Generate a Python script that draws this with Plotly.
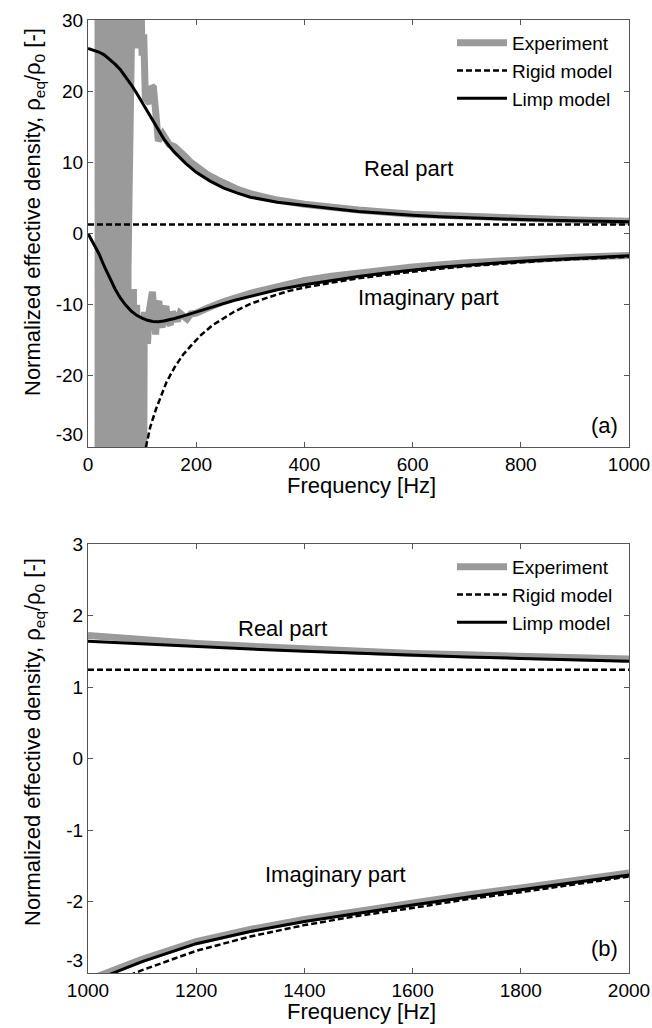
import plotly.graph_objects as go

# ---------------- data: panel (a) 0-1000 Hz ----------------
# Experiment, real part
exp_re_f = [18, 20, 22, 24, 26, 28, 30, 32, 34, 36, 38, 40, 42, 44, 46, 48, 50, 52, 54, 56, 58, 60, 62, 64, 66, 68, 70, 72,
            74, 76, 78, 80, 83, 86, 89, 92, 96, 100, 103, 106, 110, 114, 118, 121, 124, 127, 130, 134, 138, 142, 146, 150,
            160, 170, 180, 190, 200, 210, 220, 240, 260, 280, 300, 350, 400, 450, 500, 600, 700, 800, 900, 1000]
exp_re_v = [60, -60, 60, -60, 60, -60, 60, -60, 60, -60, 60, -60, 60, -60, 60, -60, 60, -60, 60, -60, 60, -60, 60, -60, 60, -60, 60, -60,
            -5, 6, 40, 26, 40, 27, 40, 26, 40, 25, 28, 19, 18.5, 18.3, 20.7, 20.5, 18, 15.5, 13, 13.5, 14, 13.5, 13, 12.5,
            12.2, 11.6, 10.8, 10.0, 9.4, 8.9, 8.3, 7.5, 6.7, 6.1, 5.6, 4.7, 4.1, 3.6, 3.3, 2.7, 2.35, 2.05, 1.88, 1.73]
# Experiment, imaginary part
exp_im_f = [18, 20, 22, 24, 26, 28, 30, 32, 34, 36, 38, 40, 42, 44, 46, 48, 50, 52, 54, 56, 58, 60, 62, 64, 66, 68, 70, 72,
            74, 78, 81, 84, 87, 90, 94, 98, 102, 104, 107, 110, 113, 116, 119, 122, 125, 128, 131, 134, 137, 140, 144, 148,
            152, 156, 160, 165, 170, 176, 183, 190, 200, 220, 250, 300, 350, 400, 450, 500, 600, 700, 800, 900, 1000]
exp_im_v = [-60, 60, -60, 60, -60, 60, -60, 60, -60, 60, -60, 60, -60, 60, -60, 60, -60, 60, -60, 60, -60, 60, -60, 60, -60, 60, -60, 60,
            -60, -8, -60, -7.8, -60, -10, -60, -12, -60, -11, -13, -15.5, -11, -8.5, -8.2, -11, -14.2, -10, -9.5, -12.5, -13.2, -11, -10.2, -12.5,
            -12.8, -11, -11.8, -12.3, -11.2, -11.5, -12, -11.3, -11.2, -10.5, -9.6, -8.4, -7.4, -6.6, -6.0, -5.5, -4.7, -4.1, -3.65, -3.35, -3.1]
# Limp model
limp_f = [0, 10, 20, 30, 40, 50, 60, 70, 80, 90, 100, 110, 120, 130, 140, 150, 160, 180, 200, 225, 250, 275, 300,
          350, 400, 450, 500, 550, 600, 650, 700, 750, 800, 850, 900, 950, 1000]
limp_re = [26.0, 25.8, 25.5, 25.1, 24.5, 23.8, 23.0, 22.0, 20.9, 19.7, 18.4, 17.0, 15.7, 14.4, 13.3, 12.3, 11.4, 9.9, 8.6, 7.4, 6.4, 5.7, 5.1,
           4.4, 3.9, 3.5, 3.1, 2.8, 2.55, 2.35, 2.2, 2.07, 1.96, 1.87, 1.79, 1.72, 1.65]
limp_im = [0.0, -1.4, -2.8, -4.6, -6.3, -7.8, -9.1, -10.1, -10.9, -11.5, -11.9, -12.2, -12.35, -12.4, -12.3, -12.15, -11.95, -11.5, -11.0, -10.4, -9.85, -9.3, -8.8,
           -7.9, -7.2, -6.6, -6.05, -5.55, -5.1, -4.75, -4.45, -4.15, -3.9, -3.68, -3.48, -3.3, -3.14]
# Rigid model
rigid_re_f = [0, 1000]
rigid_re = [1.25, 1.25]
rigid_im_f = [100, 107, 115, 126, 145, 160, 176, 190, 207, 230, 250, 270, 300, 332, 370, 400, 451, 500, 550, 600, 650,
              700, 750, 800, 850, 900, 950, 1000]
rigid_im = [-32.5, -30, -27.2, -24.6, -20.9, -18.8, -17.0, -15.8, -14.4, -12.9, -11.9, -11.0, -9.9, -9.0, -8.1, -7.6, -6.9, -6.3, -5.8, -5.35, -4.95,
            -4.6, -4.3, -4.05, -3.8, -3.6, -3.43, -3.27]

# ---------------- data: panel (b) 1000-2000 Hz ----------------
fb = [1000, 1100, 1200, 1300, 1400, 1500, 1600, 1700, 1800, 1900, 2000]
exp_re_b = [1.72, 1.66, 1.61, 1.57, 1.53, 1.50, 1.47, 1.45, 1.43, 1.41, 1.39]
exp_im_b = [-3.10, -2.81, -2.56, -2.39, -2.25, -2.13, -2.02, -1.91, -1.81, -1.71, -1.60]
limp_re_b = [1.64, 1.60, 1.56, 1.53, 1.50, 1.47, 1.44, 1.42, 1.40, 1.38, 1.36]
limp_im_b = [-3.14, -2.84, -2.59, -2.42, -2.28, -2.16, -2.05, -1.94, -1.84, -1.74, -1.63]
rigid_re_b = [1.24, 1.24, 1.24, 1.24, 1.24, 1.24, 1.24, 1.24, 1.24, 1.24, 1.24]
rigid_im_b = [-3.27, -2.96, -2.69, -2.49, -2.33, -2.20, -2.09, -1.97, -1.87, -1.76, -1.65]

x_ticks_a = [0, 200, 400, 600, 800, 1000]
y_ticks_a = [-30, -20, -10, 0, 10, 20, 30]
y_text_a = ["-30<br>\u00a0", "-20", "-10", "0", "10", "20", "30"]
x_ticks_b = [1000, 1200, 1400, 1600, 1800, 2000]
y_ticks_b = [-3, -2, -1, 0, 1, 2, 3]
y_text_b = ["-3<br>\u00a0", "-2", "-1", "0", "1", "2", "3"]

GRAY = "#9a9a9a"
FONT = "Liberation Sans, Arial, sans-serif"
EXP_W, LIMP_W, RIG_W = 7, 3, 2.5
DASH = "6px,3px"

fig = go.Figure()

def add(x, y, xa, ya, name, color, width, dash, legend, show):
    fig.add_trace(go.Scatter(x=x, y=y, xaxis=xa, yaxis=ya, mode="lines", name=name,
                             line=dict(color=color, width=width, dash=dash),
                             legend=legend, showlegend=show, legendgroup=name + legend))

# panel a
add(exp_re_f, exp_re_v, "x", "y", "Experiment", GRAY, EXP_W, "solid", "legend", True)
add(exp_im_f, exp_im_v, "x", "y", "Experiment", GRAY, EXP_W, "solid", "legend", False)
add(rigid_re_f, rigid_re, "x", "y", "Rigid model", "black", RIG_W, DASH, "legend", True)
add(rigid_im_f, rigid_im, "x", "y", "Rigid model", "black", RIG_W, DASH, "legend", False)
add(limp_f, limp_re, "x", "y", "Limp model", "black", LIMP_W, "solid", "legend", True)
add(limp_f, limp_im, "x", "y", "Limp model", "black", LIMP_W, "solid", "legend", False)
# panel b
add(fb, exp_re_b, "x2", "y2", "Experiment", GRAY, EXP_W, "solid", "legend2", True)
add(fb, exp_im_b, "x2", "y2", "Experiment", GRAY, EXP_W, "solid", "legend2", False)
add(fb, rigid_re_b, "x2", "y2", "Rigid model", "black", RIG_W, DASH, "legend2", True)
add(fb, rigid_im_b, "x2", "y2", "Rigid model", "black", RIG_W, DASH, "legend2", False)
add(fb, limp_re_b, "x2", "y2", "Limp model", "black", LIMP_W, "solid", "legend2", True)
add(fb, limp_im_b, "x2", "y2", "Limp model", "black", LIMP_W, "solid", "legend2", False)

W, H = 652, 1028
xdom = [88 / W, 629 / W]
ydom_a = [1 - 447 / H, 1 - 20 / H]
ydom_b = [1 - 973 / H, 1 - 544 / H]

axis_common = dict(showline=True, linecolor="#555", linewidth=1, mirror="ticks", ticks="inside",
                   ticklen=5, tickcolor="#555", showgrid=False, zeroline=False, automargin=False,
                   tickfont=dict(family=FONT, size=19, color="black"))

leg_common = dict(xanchor="left", yanchor="top", bgcolor="rgba(0,0,0,0)",
                  font=dict(family=FONT, size=19, color="black"), tracegroupgap=0, itemwidth=50)

fig.update_layout(
    template="none",
    width=W, height=H, margin=dict(l=0, r=0, t=0, b=0, pad=0, autoexpand=False),
    paper_bgcolor="white", plot_bgcolor="white",
    xaxis=dict(domain=xdom, anchor="y", range=[0, 1000], tickvals=x_ticks_a, **axis_common),
    yaxis=dict(domain=ydom_a, anchor="x", range=[-30, 30], tickvals=y_ticks_a, ticktext=y_text_a, **axis_common),
    xaxis2=dict(domain=xdom, anchor="y2", range=[1000, 2000], tickvals=x_ticks_b, **axis_common),
    yaxis2=dict(domain=ydom_b, anchor="x2", range=[-3, 3], tickvals=y_ticks_b, ticktext=y_text_b, **axis_common),
    legend=dict(x=452 / W, y=1 - 24 / H, **leg_common),
    legend2=dict(x=452 / W, y=1 - 548 / H, **leg_common),
    showlegend=True,
)

def ann(text, px, py, size=22, angle=0, xanchor="center"):
    fig.add_annotation(text=text, x=px / W, y=1 - py / H, xref="paper", yref="paper",
                       showarrow=False, textangle=angle, xanchor=xanchor, yanchor="middle",
                       font=dict(family=FONT, size=size, color="black"))

ylab = "Normalized effective density, ρ<sub>eq</sub>/ρ<sub>0</sub> [-]"
ann(ylab, 34, 212, size=22, angle=-90)
ann(ylab, 34, 742, size=22, angle=-90)
ann("Frequency [Hz]", 361, 485, size=22)
ann("Frequency [Hz]", 361, 1011, size=22)
ann("Real part", 408, 169)
ann("Imaginary part", 428, 297)
ann("(a)", 604, 425)
ann("Real part", 282, 628)
ann("Imaginary part", 335, 874)
ann("(b)", 604, 948)

fig.write_html("out.html")
